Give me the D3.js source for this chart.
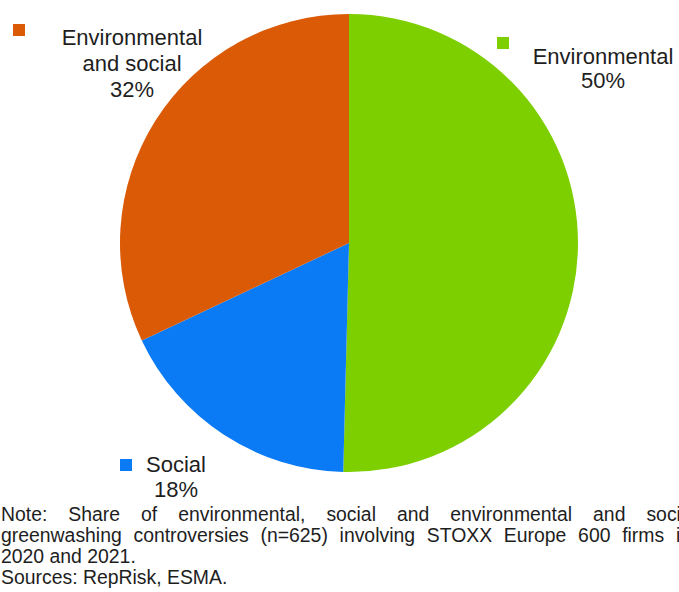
<!DOCTYPE html>
<html>
<head>
<meta charset="utf-8">
<script src="https://cdn.jsdelivr.net/npm/d3@7"></script>
<style>
  html, body { margin: 0; padding: 0; background: #fff; overflow: hidden; }
  svg { display: block; }
  text { font-family: "Liberation Sans", Arial, sans-serif; fill: #1e1e1e; }
</style>
</head>
<body>
<svg id="chart" width="679" height="592"></svg>
<script>
// ---- data ----
const categories = ["Environmental", "Social", "Environmental and social"];
const shares = [50.4, 17.6, 32.0];           // slice sizes
const percentLabels = ["50%", "18%", "32%"]; // printed labels
const colors = ["#7DCF00", "#0A7BF5", "#DA5A05"];
const nameLines = [["Environmental"], ["Social"], ["Environmental", "and social"]];
const noteLines = [
  "Note: Share of environmental, social and environmental and social",
  "greenwashing controversies (n=625) involving STOXX Europe 600 firms in",
  "2020 and 2021.",
  "Sources: RepRisk, ESMA."
];

// ---- layout ----
const svg = d3.select("#chart");
const cx = 349, cy = 243, r = 229;

const pie = d3.pie().sort(null).value(d => d).startAngle(0).endAngle(2 * Math.PI);
const arc = d3.arc().innerRadius(0).outerRadius(r);

const g = svg.append("g").attr("transform", `translate(${cx},${cy})`);
g.selectAll("path")
  .data(pie(shares))
  .join("path")
  .attr("d", arc)
  .attr("fill", (d, i) => colors[i]);

// ---- labels (legend-style squares + text) ----
const labelPos = [
  { sx: 497, sy: 37, tx: 603, ty: 64, lh: 24 },
  { sx: 120, sy: 459, tx: 176, ty: 472, lh: 25 },
  { sx: 13, sy: 24, tx: 132, ty: 45, lh: 26 }
];
categories.forEach((c, i) => {
  const p = labelPos[i];
  svg.append("rect")
    .attr("x", p.sx).attr("y", p.sy)
    .attr("width", 12).attr("height", 12)
    .attr("fill", colors[i]);
  const t = svg.append("text")
    .attr("text-anchor", "middle")
    .attr("font-size", 22);
  nameLines[i].concat([percentLabels[i]]).forEach((ln, j) => {
    t.append("tspan").attr("x", p.tx).attr("y", p.ty + j * p.lh).text(ln);
  });
});

// ---- note (justified first two lines) ----
const noteFont = 19.4;
const noteX = 1;
const justifyW = [695, 690];
const noteBase = [521, 542, 563, 584];
noteLines.forEach((line, li) => {
  const justify = li < 2;
  if (!justify) {
    svg.append("text").attr("x", noteX).attr("y", noteBase[li])
      .attr("font-size", noteFont).text(line);
    return;
  }
  const words = line.split(" ");
  const tmp = words.map(w => svg.append("text").attr("font-size", noteFont).text(w));
  const widths = tmp.map(t => t.node().getComputedTextLength());
  tmp.forEach(t => t.remove());
  const total = d3.sum(widths);
  const gap = (justifyW[li] - total) / (words.length - 1);
  let x = noteX;
  words.forEach((w, k) => {
    svg.append("text").attr("x", x).attr("y", noteBase[li])
      .attr("font-size", noteFont).text(w);
    x += widths[k] + gap;
  });
});
</script>
</body>
</html>
